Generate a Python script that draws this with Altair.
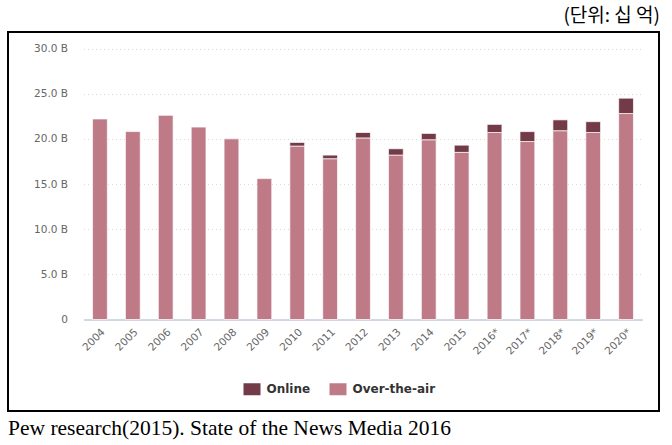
import altair as alt
import pandas as pd

years = ["2004", "2005", "2006", "2007", "2008", "2009", "2010", "2011", "2012",
         "2013", "2014", "2015", "2016*", "2017*", "2018*", "2019*", "2020*"]
over_the_air = [22.2, 20.8, 22.6, 21.3, 20.0, 15.6, 19.2, 17.8, 20.1,
                18.2, 19.9, 18.5, 20.7, 19.7, 20.9, 20.7, 22.8]
online = [0, 0, 0, 0, 0, 0, 0.4, 0.4, 0.6,
          0.7, 0.7, 0.8, 0.9, 1.1, 1.2, 1.2, 1.7]
series = ["Online", "Over-the-air"]
colors = ["#733a48", "#be7b87"]
y_ticks = [0, 5, 10, 15, 20, 25, 30]

rows = []
for y, o, n in zip(years, over_the_air, online):
    rows.append({"year": y, "series": "Over-the-air", "value": o, "ord": 0})
    if n > 0:
        rows.append({"year": y, "series": "Online", "value": n, "ord": 1})
df = pd.DataFrame(rows)

VIEW_W, VIEW_H = 651, 379

x = alt.X(
    "year:N", sort=years,
    scale=alt.Scale(range=[75.5, 634.5], paddingInner=0.55, paddingOuter=0.275),
    axis=alt.Axis(
        title=None, labelAngle=-45, labelFontSize=10.5, labelColor="#666666",
        labelFont="DejaVu Sans", ticks=False, tickSize=0, labelPadding=7,
        domainColor="#c3cddd", domainWidth=1.5, offset=-91.5, grid=False,
    ),
)
y = alt.Y(
    "value:Q", stack="zero",
    scale=alt.Scale(domain=[0, 30], range=[287.5, 16.5], nice=False),
    axis=alt.Axis(
        title=None, values=y_ticks, labelFontSize=10.5, labelColor="#666666",
        labelFont="DejaVu Sans", ticks=False, tickSize=0, labelPadding=0,
        domain=False, offset=-59.5, grid=True, gridColor="#d9d9d9",
        gridDash=[1, 3], gridWidth=1,
        labelExpr="datum.value == 0 ? '0' : format(datum.value, '.1f') + ' B'",
    ),
)

bars = alt.Chart(df).mark_bar(stroke="white", strokeWidth=0.7).encode(
    x=x,
    y=y,
    color=alt.Color(
        "series:N",
        scale=alt.Scale(domain=series, range=colors),
        legend=alt.Legend(
            title=None, orient="none", direction="horizontal",
            legendX=235.5, legendY=348.5, padding=0,
            symbolType="M-1,-0.706H1V0.706H-1Z", symbolSize=289,
            symbolStrokeWidth=0, symbolOpacity=1,
            labelFont="DejaVu Sans", labelFontWeight="bold", labelFontSize=12,
            labelColor="#333333", labelOffset=6, columnPadding=19,
        ),
    ),
    order=alt.Order("ord:Q", sort="ascending"),
).properties(
    width=VIEW_W, height=VIEW_H,
    title=alt.TitleParams(
        "Pew research(2015). State of the News Media 2016",
        orient="bottom", anchor="start", font="Liberation Serif",
        fontSize=21.5, fontWeight="normal", color="black", offset=7,
    ),
)

chart = alt.vconcat(
    bars,
    title=alt.TitleParams(
        "(단위: 십 억)", anchor="end", font="Noto Sans CJK KR",
        fontSize=19, fontWeight="normal", color="black", offset=5,
    ),
).properties(
    padding={"left": 7, "top": 7, "right": 10, "bottom": 2},
).configure_view(
    stroke="black", strokeWidth=2,
)

chart.save("out.html", embed_options={"renderer": "svg", "actions": False})
